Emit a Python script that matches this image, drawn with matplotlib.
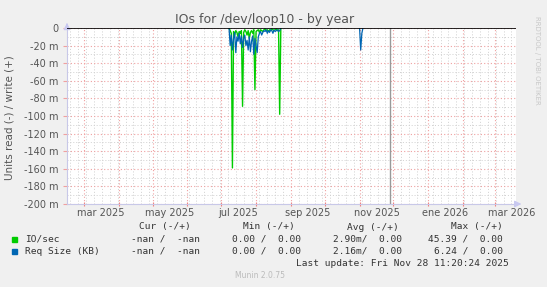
import datetime as dt
import numpy as np
import matplotlib
matplotlib.use("Agg")
import matplotlib.pyplot as plt
import matplotlib.dates as mdates
import matplotlib.transforms as mtransforms

# daily read values (milli-units), series start 2025-07-08
start = dt.date(2025, 7, 8)
io_read = [0, 3, 6, 159, 4, 8, 3, 5, 10, 4, 6, 3, 89, 5, 2, 4, 8, 3, 12, 5, 3, 6, 2,
           70, 4, 3, 2, 5, 2, 3, 4, 2, 1, 3, 2, 4, 2, 3, 1, 2, 3, 2, 1, 3, 2, 98, 0]
req_read = [0, 20, 8, 25, 12, 5, 28, 10, 15, 6, 18, 9, 22, 12, 8, 20, 14, 25, 10, 27, 15, 9, 30,
            12, 20, 28, 10, 6, 4, 8, 5, 3, 4, 2, 6, 3, 5, 2, 3, 6, 2, 4, 3, 2, 4, 3, 0]
# later burst of request size
start2 = dt.date(2025, 11, 1)
req_read2 = [0, 25, 6, 0]

x_start = dt.date(2025, 2, 14)
x_end = dt.date(2026, 3, 20)
now = dt.datetime(2025, 11, 28, 11, 20)

month_labels = ["mar 2025", "may 2025", "jul 2025", "sep 2025", "nov 2025", "ene 2026", "mar 2026"]
label_months = [(2025, 3), (2025, 5), (2025, 7), (2025, 9), (2025, 11), (2026, 1), (2026, 3)]

yticks = np.arange(0, -0.21, -0.02)

legend_rows = [
    ("IO/sec", "#00CC00", "-nan /  -nan", "0.00 /  0.00", "2.90m/  0.00", "45.39 /  0.00"),
    ("Req Size (KB)", "#0066B3", "-nan /  -nan", "0.00 /  0.00", "2.16m/  0.00", "6.24 /  0.00"),
]

W, H = 547, 287
fig = plt.figure(figsize=(W / 100, H / 100), dpi=100, facecolor="#F0F0F0")
L, R, T, B = 67, 516, 28, 204
ax = fig.add_axes([L / W, 1 - B / H, (R - L) / W, (B - T) / H])
ax.set_facecolor("white")

d1 = [start + dt.timedelta(days=i) for i in range(len(io_read))]
d2 = [start2 + dt.timedelta(days=i) for i in range(len(req_read2))]
ax.plot(d1, -np.array(io_read) / 1000, color="#00CC00", lw=1.0, zorder=3)
ax.plot(d1, -np.array(req_read) / 1000, color="#0066B3", lw=0.9, zorder=4)
ax.plot(d2, -np.array(req_read2) / 1000, color="#0066B3", lw=0.9, zorder=4)
ax.axhline(0, color="black", lw=1.2, zorder=5)
ax.axvline(now, color="#999999", lw=1.0, zorder=2)

ax.set_xlim(x_start, x_end)
ax.set_ylim(-0.2, 0)

ax.xaxis.set_major_locator(mdates.MonthLocator())
ax.xaxis.set_minor_locator(mdates.WeekdayLocator(byweekday=mdates.MO))
ax.xaxis.set_major_formatter(plt.NullFormatter())
ax.set_yticks(yticks)
ax.yaxis.set_minor_locator(plt.MultipleLocator(0.01))
ax.set_yticklabels(["0" if abs(v) < 1e-9 else "%d m" % round(v * 1000) for v in yticks])

ax.grid(which="major", color="#F0A0A0", ls=(0, (1, 2)), lw=0.8)
ax.grid(which="minor", color="#D0D0D0", ls=(0, (1, 2)), lw=0.7)
ax.tick_params(axis="x", which="major", color="#F08080", length=3, direction="inout")
ax.tick_params(axis="x", which="minor", length=0)
ax.tick_params(axis="y", which="major", color="#F0A0A0", length=3, labelsize=7,
               labelcolor="#555555", pad=3)
ax.tick_params(axis="y", which="minor", length=0)
for s in ["top", "right"]:
    ax.spines[s].set_visible(False)
for s in ["left", "bottom"]:
    ax.spines[s].set_color("#C8C8E8")
    ax.spines[s].set_linewidth(0.8)

# axis arrows
ax.annotate("", xy=(1.012, 0), xytext=(1.0, 0), xycoords="axes fraction",
            arrowprops=dict(arrowstyle="-|>", color="#C8C8F0", lw=0.8), annotation_clip=False)
ax.annotate("", xy=(0, 1.045), xytext=(0, 1.0), xycoords="axes fraction",
            arrowprops=dict(arrowstyle="-|>", color="#C8C8F0", lw=0.8), annotation_clip=False)

trans = mtransforms.blended_transform_factory(ax.transData, fig.transFigure)
for lab, (yy, mm) in zip(month_labels, label_months):
    xd = dt.date(yy, mm, 1) + dt.timedelta(days=15)
    ax.text(xd, 1 - 213 / H, lab, transform=trans, ha="center", va="center",
            fontsize=7, color="#555555")

fig.text(0.5 * (183 + 347) / W, 1 - 19 / H, "IOs for /dev/loop10 - by year", ha="center",
         va="center", fontsize=9, color="#555555")
fig.text(10 / W, 1 - 118 / H, "Units read (-) / write (+)", rotation=90, ha="center",
         va="center", fontsize=7.5, color="#555555")
fig.text(537 / W, 1 - 60 / H, "RRDTOOL / TOBI OETIKER", rotation=270, ha="center",
         va="center", fontsize=5, color="#C8C8C8")

mono = "DejaVu Sans Mono"
fs = 6.8
tc = "#333333"
for txt, xr in [("Cur (-/+)", 191), ("Min (-/+)", 295), ("Avg (-/+)", 399), ("Max (-/+)", 503)]:
    fig.text(xr / W, 1 - 227 / H, txt, ha="right", va="center", family=mono, fontsize=fs, color=tc)
for i, (name, col, cur, mn, av, mx) in enumerate(legend_rows):
    yy = 1 - (239 + 12.5 * i) / H
    fig.patches.append(plt.Rectangle((12 / W, yy - 2.5 / H), 5 / W, 5 / H, color=col,
                                     transform=fig.transFigure, figure=fig))
    fig.text(25 / W, yy, name, ha="left", va="center", family=mono, fontsize=fs, color=tc)
    for txt, xr in [(cur, 200), (mn, 301), (av, 402), (mx, 503)]:
        fig.text(xr / W, yy, txt, ha="right", va="center", family=mono, fontsize=fs, color=tc)
fig.text(509 / W, 1 - 263 / H, "Last update: Fri Nov 28 11:20:24 2025", ha="right",
         va="center", family=mono, fontsize=fs, color=tc)
fig.text(260 / W, 1 - 276 / H, "Munin 2.0.75", ha="center", va="center", fontsize=5.5,
         color="#BBBBBB")

fig.savefig("out.png", dpi=100, facecolor=fig.get_facecolor())
